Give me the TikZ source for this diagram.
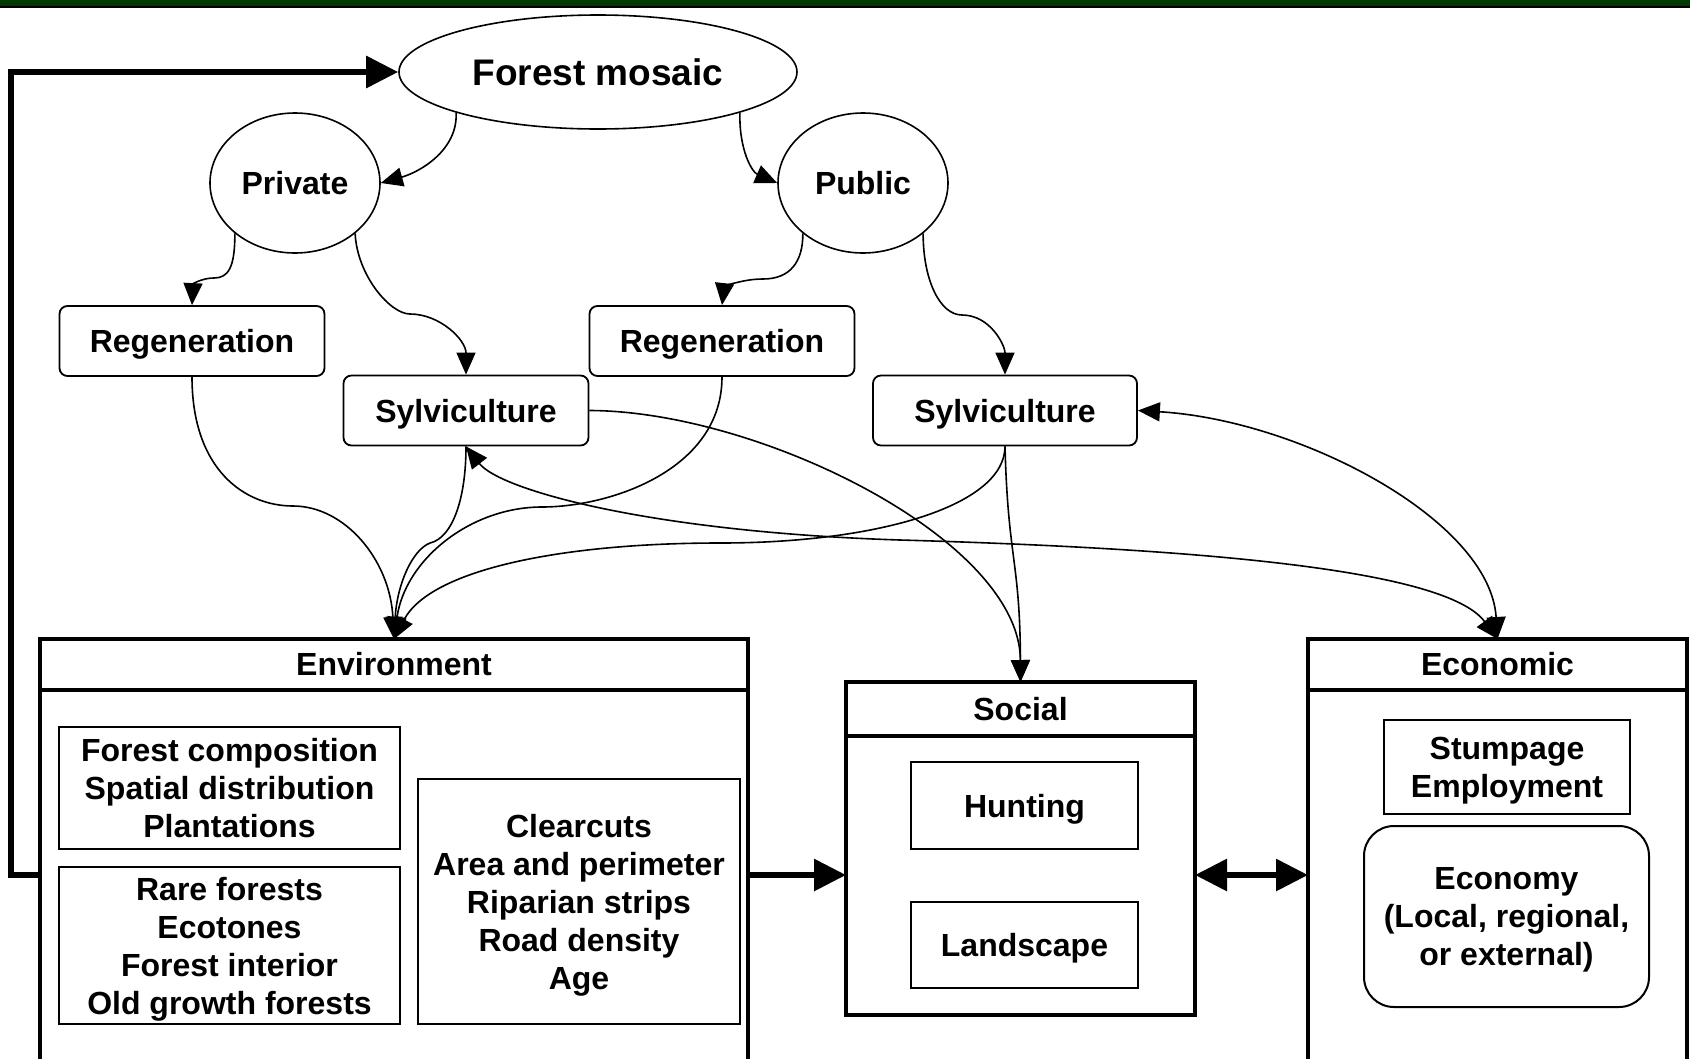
\documentclass[tikz,border=0pt]{standalone}
\usepackage{fontspec}
\setmainfont{Liberation Sans}
\usetikzlibrary{arrows.meta,shapes.geometric}
\definecolor{bargreen}{HTML}{003A00}
\begin{document}
\begin{tikzpicture}[x=1pt, y=-1pt, font=\fontsize{32}{38}\selectfont\bfseries]

    \tikzset{%
    owner/.style={
        ellipse,
        draw,
        line width=1.6pt,
        inner sep=0pt
        },
    round box/.style={
        draw,
        rounded corners=8pt,
        line width=1.8pt,
        minimum height=70pt,
        inner sep=0pt,
        text depth=0pt
        },
    plain box/.style={
        draw,
        line width=2pt,
        inner sep=0pt,
        align=center,
        text depth=0pt
        },
    group box/.style={
        draw,
        line width=4.5pt,
        inner sep=0pt,
        outer sep=0pt
        },
    group title/.style={
        group box,
        anchor=north
        },
    link/.style={
        line width=1.6pt,
        -{Triangle[length=22pt,width=19pt]}
        },
    both link/.style={
        line width=1.6pt,
        {Triangle[length=22pt,width=19pt]}-{Triangle[length=22pt,width=19pt]}
        },
    big link/.style={
        line width=6pt,
        -{Triangle[length=32pt,width=31pt]}
        },
    big both/.style={
        line width=6pt,
        {Triangle[length=32pt,width=31pt]}-{Triangle[length=32pt,width=31pt]}
        },
    }

    \useasboundingbox (0,0) rectangle (1690,1058);

    % Top band
    \fill [bargreen] (0,0) rectangle (1690,7);
    \draw [line width=1.5pt] (0,7) -- (1690,7);

    % Forest mosaic and the two owners
    \node [owner, minimum width=398pt, minimum height=114pt,
        font=\fontsize{37}{44}\selectfont\bfseries] (mosaic) at (598,72) {Forest mosaic};
    \foreach \m/\l/\x in {1/Private/295, 2/Public/863}
    \node [owner, minimum width=170pt, minimum height=140pt] (owner-\m) at (\x,183) {\l};

    % Regeneration and Sylviculture boxes
    \foreach \m/\x in {1/192, 2/722}
    \node [round box, minimum width=265pt] (regen-\m) at (\x,341) {Regeneration};
    \foreach \m/\x/\w in {1/466/245, 2/1005/264}
    \node [round box, minimum width=\w pt] (sylv-\m) at (\x,410.5) {Sylviculture};

    % The three groups
    \node [group box, minimum width=708pt, minimum height=472pt] (env) at (394,875) {};
    \node [group box, minimum width=349pt, minimum height=333pt] (soc) at (1020.5,848.5) {};
    \node [group box, minimum width=379pt, minimum height=472pt] (eco) at (1497.5,875) {};

    % Group titles
    \foreach \g/\t/\w/\h in {env/Environment/708/51, soc/Social/349/54, eco/Economic/379/51}
    \node [group title, minimum width=\w pt, minimum height=\h pt] (\g-title) at (\g.north) {\t};

    % Group contents
    \node [plain box, minimum width=341pt, minimum height=122pt] (env-1) at (229.5,788)
        {Forest composition\\Spatial distribution\\Plantations};
    \node [plain box, minimum width=341pt, minimum height=157pt] (env-2) at (229.5,945.5)
        {Rare forests\\Ecotones\\Forest interior\\Old growth forests};
    \node [plain box, minimum width=322pt, minimum height=245pt] (env-3) at (579,901.5)
        {Clearcuts\\Area and perimeter\\Riparian strips\\Road density\\Age};
    \node [plain box, minimum width=227pt, minimum height=87pt] (soc-1) at (1024.5,805.5) {Hunting};
    \node [plain box, minimum width=227pt, minimum height=86pt] (soc-2) at (1024.5,945) {Landscape};
    \node [plain box, minimum width=246pt, minimum height=94pt] (eco-1) at (1507,767) {Stumpage\\Employment};
    \node [plain box, rounded corners=30pt, minimum width=285pt, minimum height=181pt] (eco-2) at (1506.5,916.5)
        {Economy\\(Local, regional,\\or external)};

    % Ownership
    \draw [link] (mosaic.196) .. controls (458,150) and (420,172) .. (owner-1.east);
    \draw [link] (mosaic.-16) .. controls (739,150) and (752,172) .. (owner-2.west);

    % Owners to regeneration and sylviculture
    \draw [link] (owner-1.220) .. controls (235,268) and (228,278) .. (214,278)
        .. controls (202,278) and (193,284) .. (regen-1.north);
    \draw [link] (owner-1.-40) .. controls (357,275) and (390,314) .. (410,314)
        .. controls (440,314) and (466,340) .. (sylv-1.north);
    \draw [link] (owner-2.220) .. controls (803,262) and (790,279) .. (763,279)
        .. controls (740,279) and (724,288) .. (regen-2.north);
    \draw [link] (owner-2.-40) .. controls (923,280) and (940,315) .. (962,315)
        .. controls (990,315) and (1005,345) .. (sylv-2.north);

    % Into Environment
    \draw [link] (regen-1.south) .. controls (192,470) and (245,506) .. (293,506)
        .. controls (345,506) and (390,560) .. (env.north);
    \draw [link] (regen-2.south) .. controls (722,470) and (610,507) .. (542,507)
        .. controls (470,507) and (405,560) .. (env.north);
    \draw [link] (sylv-1.south) .. controls (466,500) and (452,538) .. (430,543)
        .. controls (412,550) and (397,585) .. (env.north);
    \draw [link] (sylv-2.south) .. controls (1005,505) and (880,543) .. (720,543)
        .. controls (560,543) and (430,570) .. (env.north);

    % Into Social
    \draw [link] (sylv-1.east) .. controls (760,411) and (1020,540) .. (soc.north);
    \draw [link] (sylv-2.south) .. controls (1008,560) and (1020,560) .. (soc.north);

    % With Economic
    \draw [both link] (sylv-1.south) .. controls (500,490) and (650,532) .. (900,540)
        .. controls (1250,550) and (1450,575) .. (eco.north);
    \draw [both link] (sylv-2.east) .. controls (1300,420) and (1490,520) .. (eco.north);

    % Between the groups and back to the mosaic
    \draw [big link] (env.east) -- (env.east -| soc.west);
    \draw [big both] (eco.west -| soc.east) -- (eco.west);
    \draw [big link] (env.west) -- ++(-29,0) |- (mosaic.west);

\end{tikzpicture}
\end{document}
